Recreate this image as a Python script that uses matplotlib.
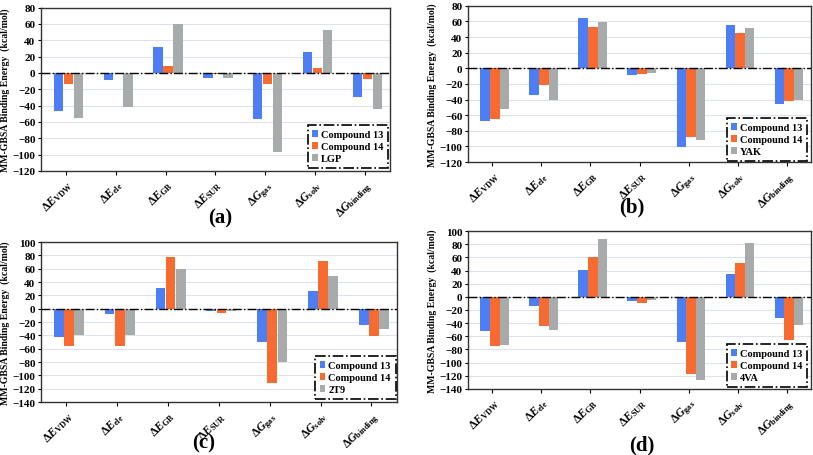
import matplotlib
matplotlib.use("Agg")
import matplotlib.pyplot as plt
import numpy as np

plt.rcParams['font.family'] = ['Liberation Serif', 'DejaVu Serif']
plt.rcParams['font.weight'] = 'bold'
plt.rcParams['mathtext.fontset'] = 'custom'
plt.rcParams['mathtext.rm'] = 'Liberation Serif:bold'
plt.rcParams['mathtext.it'] = 'Liberation Serif:bold:italic'
plt.rcParams['mathtext.bf'] = 'Liberation Serif:bold'

categories = [r'$\Delta E_{\mathrm{VDW}}$', r'$\Delta E_{\mathrm{ele}}$', r'$\Delta E_{\mathrm{GB}}$',
              r'$\Delta E_{\mathrm{SUR}}$', r'$\Delta G_{\mathrm{gas}}$', r'$\Delta G_{\mathrm{solv}}$',
              r'$\Delta G_{\mathrm{binding}}$']
series_names = ['Compound 13', 'Compound 14']

# panel (a) LGP
a_c13 = [-47, -9, 32, -6, -56, 26, -30]
a_c14 = [-13, -0.5, 8, -1.5, -14, 6, -7]
a_ref = [-55, -42, 60, -6, -97, 53, -44]
# panel (b) YAK
b_c13 = [-67, -34, 64, -8, -101, 56, -46]
b_c14 = [-65, -22, 53, -7, -88, 45, -42]
b_ref = [-52, -40, 59, -6, -92, 52, -40]
# panel (c) 2T9
c_c13 = [-42, -8, 31, -4, -50, 26, -24]
c_c14 = [-56, -56, 78, -7, -112, 71, -41]
c_ref = [-40, -39, 59, -4, -80, 49, -31]
# panel (d) 4VA
d_c13 = [-52, -14, 41, -6, -68, 35, -32]
d_c14 = [-75, -44, 60, -9, -118, 51, -66]
d_ref = [-74, -51, 88, -5, -126, 82, -43]

ref_names = ['LGP', 'YAK', '2T9', '4VA']
panel_labels = ['(a)', '(b)', '(c)', '(d)']
ylims = [(-120, 80), (-120, 80), (-140, 100), (-140, 100)]

colors = ['#4d7ef3', '#f76a30', '#a7abab']

fig = plt.figure(figsize=(8.13, 4.56), dpi=100)

positions = [
    [0.0504, 0.623, 0.429, 0.358],
    [0.5756, 0.6425, 0.422, 0.3425],
    [0.0504, 0.116, 0.4376, 0.351],
    [0.5756, 0.145, 0.422, 0.346],
]
legend_anchor = [(0.995, 0.018), (0.988, 0.006), (0.997, 0.019), (0.988, 0.013)]
label_pos = [(0.271, 0.52), (0.777, 0.544), (0.25, 0.028), (0.79, 0.022)]

data = [(a_c13, a_c14, a_ref), (b_c13, b_c14, b_ref), (c_c13, c_c14, c_ref), (d_c13, d_c14, d_ref)]

x = np.arange(len(categories))
w = 0.19
for i in range(4):
    ax = fig.add_axes(positions[i])
    names = series_names + [ref_names[i]]
    for j, vals in enumerate(data[i]):
        ax.bar(x + (j - 1) * (w + 0.01) + 0.05, vals, width=w, color=colors[j], label=names[j], zorder=3)
    lo, hi = ylims[i]
    ax.set_ylim(lo, hi)
    ax.set_yticks(np.arange(lo, hi + 1, 20))
    ax.set_xlim(-0.5, len(categories) - 0.5)
    ax.set_xticks(x)
    ax.set_xticklabels(categories, rotation=45, ha='right', rotation_mode='anchor', fontsize=8.5)
    ax.tick_params(axis='y', labelsize=8, length=2, width=0.8, pad=2)
    ax.tick_params(axis='x', length=3, width=0.8, pad=2)
    ax.yaxis.grid(True, color='#dde3ec', linewidth=0.8, zorder=0)
    ax.set_axisbelow(True)
    ax.axhline(0, color='black', linestyle='-.', linewidth=1.0, zorder=4)
    for s in ax.spines.values():
        s.set_color('#333333')
        s.set_linewidth(1.0)
    ax.set_ylabel('MM-GBSA Binding Energy  (kcal/mol)', fontsize=7, fontweight='bold', labelpad=2)
    leg = ax.legend(loc='lower right', bbox_to_anchor=legend_anchor[i], fontsize=7.5,
                    handlelength=0.5, handleheight=0.6, handletextpad=0.3, borderaxespad=0,
                    fancybox=False, framealpha=1, labelspacing=0.3, borderpad=0.45)
    fr = leg.get_frame()
    fr.set_edgecolor('black')
    fr.set_linestyle('-.')
    fr.set_linewidth(1.2)
    leg.set_zorder(5)
    fig.text(label_pos[i][0], label_pos[i][1], panel_labels[i], fontsize=15, fontweight='bold', ha='center', va='center')

fig.savefig('out.png', dpi=100)
